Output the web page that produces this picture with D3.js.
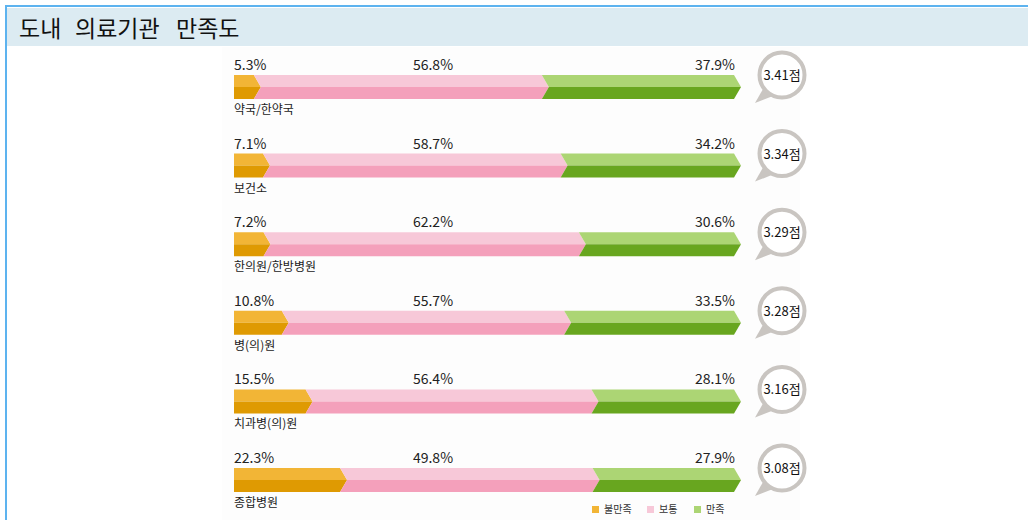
<!DOCTYPE html>
<html>
<head>
<meta charset="utf-8">
<script src="https://cdn.jsdelivr.net/npm/d3@7"></script>
<style>
  body { margin: 0; background: #fff; }
  svg { display: block; font-family: "Noto Sans CJK KR", "Noto Sans", sans-serif; }
</style>
</head>
<body>
<script>
var categories = ['약국/한약국', '보건소', '한의원/한방병원', '병(의)원', '치과병(의)원', '종합병원'];
var dissatisfied = [5.3, 7.1, 7.2, 10.8, 15.5, 22.3];
var neutral = [56.8, 58.7, 62.2, 55.7, 56.4, 49.8];
var satisfied = [37.9, 34.2, 30.6, 33.5, 28.1, 27.9];
var scores = ['3.41', '3.34', '3.29', '3.28', '3.16', '3.08'];
var legendLabels = ['불만족', '보통', '만족'];
var titleWords = ['도내', '의료기관', '만족도'];

var colorsTop = ['#f2b536', '#f7c8d8', '#acd574'];
var colorsBottom = ['#df9a02', '#f4a0bb', '#68a61f'];

var svg = d3.select('body').append('svg')
    .attr('width', 1028)
    .attr('height', 520);

// frame + title bar
svg.append('rect').attr('x', 6).attr('y', 6).attr('width', 1030).attr('height', 520)
    .attr('fill', '#fff').attr('stroke', '#5db3ef').attr('stroke-width', 2);
svg.append('rect').attr('x', 7).attr('y', 8).attr('width', 1030).attr('height', 38)
    .attr('fill', '#dcebf2');

// title words are set apart with wide gaps, like the original
var title = svg.append('text')
    .attr('y', 37)
    .style('font-size', '23px')
    .attr('fill', '#111');
title.selectAll('tspan')
    .data(titleWords)
    .enter().append('tspan')
    .attr('x', function (d, i) { return [19, 75, 176][i]; })
    .text(function (d) { return d; });

// pale panel behind the chart
svg.append('rect').attr('x', 222).attr('y', 47).attr('width', 578).attr('height', 473)
    .attr('fill', '#fdfdfd');

var x = d3.scaleLinear().domain([0, 100]).range([234, 741]);
var y = d3.scaleBand().domain(categories).range([75, 75 + 6 * 78.6]);
var barH = 24, notch = 7;

var rows = categories.map(function (c, i) {
    return { name: c, vals: [dissatisfied[i], neutral[i], satisfied[i]], score: scores[i] };
});

var row = svg.selectAll('.row')
    .data(rows)
    .enter().append('g')
    .attr('class', 'row')
    .attr('transform', function (d) { return 'translate(0,' + y(d.name) + ')'; });

row.each(function (d) {
    var g = d3.select(this);
    var cum = 0;
    d.vals.forEach(function (v, k) {
        var a = x(cum), b = x(cum + v);
        var ac = k === 0 ? a : a - notch;
        var bc = b - notch;
        var mid = barH / 2;
        g.append('path')
            .attr('d', 'M' + ac + ',0L' + bc + ',0L' + b + ',' + mid + 'L' + a + ',' + mid + 'Z')
            .attr('fill', colorsTop[k]);
        g.append('path')
            .attr('d', 'M' + a + ',' + mid + 'L' + b + ',' + mid + 'L' + bc + ',' + barH + 'L' + ac + ',' + barH + 'Z')
            .attr('fill', colorsBottom[k]);
        cum += v;
    });

    // percent labels
    var pctX = [234, 433, 735];
    var anchors = ['start', 'middle', 'end'];
    d.vals.forEach(function (v, k) {
        g.append('text')
            .attr('x', pctX[k]).attr('y', -5)
            .attr('text-anchor', anchors[k])
            .style('font-size', '14px')
            .attr('fill', '#222')
            .text(v.toFixed(1) + '%');
    });

    // category label
    g.append('text')
        .attr('x', 234).attr('y', barH + 15)
        .style('font-size', '12px')
        .attr('fill', '#222')
        .text(d.name);

    // score bubble
    var cx = 782, cy = 0;
    g.append('path')
        .attr('d', 'M' + (cx - 19) + ',' + (cy + 14) + 'L' + (cx - 27) + ',' + (cy + 28) + 'L' + (cx - 9) + ',' + (cy + 21) + 'Z')
        .attr('fill', '#c9c5c1');
    g.append('circle')
        .attr('cx', cx).attr('cy', cy).attr('r', 22.5)
        .attr('fill', '#fff')
        .attr('stroke', '#c9c5c1')
        .attr('stroke-width', 4);
    g.append('text')
        .attr('x', cx).attr('y', cy + 5)
        .attr('text-anchor', 'middle')
        .style('font-size', '13px')
        .attr('fill', '#111')
        .text(d.score + '점');
});

// legend
var legend = svg.append('g')
    .selectAll('g')
    .data(legendLabels)
    .enter().append('g')
    .attr('transform', function (d, i) { return 'translate(' + [592, 647, 694][i] + ',506)'; });

legend.append('rect')
    .attr('width', 7).attr('height', 7)
    .attr('fill', function (d, i) { return colorsTop[i]; });

legend.append('text')
    .attr('x', 12).attr('y', 7)
    .style('font-size', '10px')
    .attr('fill', '#333')
    .text(function (d) { return d; });
</script>
</body>
</html>
